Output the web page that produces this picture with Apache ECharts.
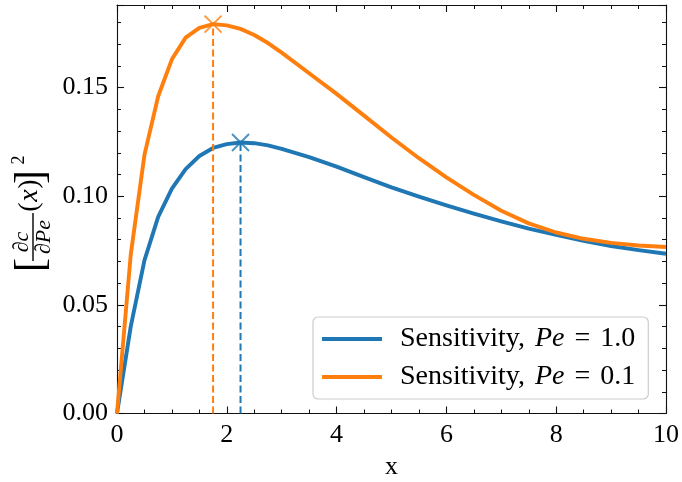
<!DOCTYPE html>
<html><head><meta charset="utf-8">
<script src="https://cdn.jsdelivr.net/npm/echarts@6/dist/echarts.min.js"></script>
<style>html,body{margin:0;padding:0;background:#fff}#c{width:682px;height:482px}</style>
</head><body><div id="c"></div>
<script>
const xs = [0,0.25,0.5,0.75,1.0,1.25,1.5,1.75,2.0,2.25,2.5,2.75,3.0,3.5,4.0,4.5,5.0,5.5,6.0,6.5,7.0,7.5,8.0,8.5,9.0,9.5,10];
const pe1 = [0,0.040,0.0705,0.0905,0.1035,0.1125,0.1185,0.1222,0.1240,0.1247,0.1244,0.1234,0.1218,0.1180,0.1136,0.1088,0.1041,0.0998,0.0958,0.0920,0.0884,0.0851,0.0822,0.0795,0.0771,0.0752,0.0735];
const pe01 = [0,0.073,0.119,0.146,0.163,0.173,0.1775,0.1792,0.1786,0.1770,0.1742,0.1705,0.1661,0.1566,0.1471,0.1371,0.1270,0.1175,0.1087,0.1006,0.0933,0.0875,0.0833,0.0804,0.0785,0.0773,0.0766];
const names = ['Sensitivity, Pe = 1.0', 'Sensitivity, Pe = 0.1'];
const colors = ['#1f77b4', '#ff7f0e'];
const xTicks = [0,2,4,6,8,10];
const yTicks = [0,0.05,0.10,0.15];

const FONT = 'Liberation Serif';
function peak(arr){ let k=0; arr.forEach((v,i)=>{ if(v>arr[k]) k=i; }); return [xs[k], arr[k]]; }
const curves = [pe1, pe01];
const series = [];
curves.forEach((arr,i)=>{
  series.push({type:'line', name:names[i], data: xs.map((x,j)=>[x,arr[j]]), showSymbol:false, symbol:'none',
    smooth:false, lineStyle:{color:colors[i], width:3.9, join:'round'}, itemStyle:{color:colors[i]}, z:2, silent:true});
});
curves.forEach((arr,i)=>{
  const p = peak(arr);
  series.push({type:'line', data:[[p[0],0],[p[0],p[1]]], showSymbol:false, symbol:'none',
    lineStyle:{color:colors[i], width:2, type:[7,3.5]}, z:3, silent:true});
});
curves.forEach((arr,i)=>{
  const p = peak(arr);
  series.push({type:'scatter', data:[p], symbol:'path://M0,0L10,10M10,0L0,10', symbolSize:17,
    itemStyle:{color:'transparent', borderColor:colors[i], borderWidth:2}, z:4, silent:true});
});

function axisCommon(split){
  return {
    axisLine:{show:true, onZero:false, lineStyle:{color:'#111', width:1.1}},
    axisTick:{show:true, inside:true, length:7, lineStyle:{color:'#111', width:1.1}},
    minorTick:{show:true, splitNumber:split, length:4, lineStyle:{color:'#111', width:1}},
    splitLine:{show:false}
  };
}
const labelStyle = {fontFamily:FONT, fontSize:26, color:'#000'};

const T = (text, x, y, size, italic, extra) => Object.assign({type:'text', style:{text:text, x:x, y:y, fontFamily:FONT, fontSize:size,
  fontStyle: italic?'italic':'normal', fill:'#000', align:'center', verticalAlign:'middle', textAlign:'center', textVerticalAlign:'middle'}}, extra||{});

const option = {
  animation:false,
  grid:{left:117, right:16, top:5, bottom:68.5, containLabel:false, outerBoundsMode:'none'},
  xAxis:[
    Object.assign({type:'value', position:'bottom', min:0, max:10, interval:2,
      axisLabel:Object.assign({margin:9, formatter:v=>xTicks.includes(v)?String(v):''}, labelStyle),
      name:'x', nameLocation:'middle', nameGap:41, nameTextStyle:{fontFamily:FONT, fontSize:26, color:'#000'}}, axisCommon(4)),
    Object.assign({type:'value', position:'top', min:0, max:10, interval:2, axisLabel:{show:false}}, axisCommon(4))
  ],
  yAxis:[
    Object.assign({type:'value', position:'left', min:0, max:0.188, interval:0.05,
      axisLabel:Object.assign({margin:9, showMaxLabel:false, formatter:v=>{ const t=yTicks.find(q=>Math.abs(q-v)<1e-9); return t===undefined?'':t.toFixed(2);} }, labelStyle)}, axisCommon(5)),
    Object.assign({type:'value', position:'right', min:0, max:0.188, interval:0.05, axisLabel:{show:false}}, axisCommon(5))
  ],
  legend:{
    data:names, orient:'vertical', left:313, top:317, padding:[8,13,8,9], itemGap:10,
    itemWidth:60, itemHeight:4, icon:'rect',
    backgroundColor:'rgba(255,255,255,0.85)', borderColor:'#cccccc', borderWidth:1.2, borderRadius:5,
    textStyle:{fontFamily:FONT, fontSize:28, color:'#000', lineHeight:28, padding:[0,0,0,13],
      rich:{r:{fontFamily:FONT, fontSize:28, color:'#000', lineHeight:28},
            i:{fontFamily:FONT, fontSize:28, fontStyle:'italic', color:'#000', lineHeight:28, padding:[0,0,0,3]},
            e:{fontFamily:FONT, fontSize:28, color:'#000', lineHeight:28, padding:[0,10,0,10]}}},
    formatter:function(n){ const m = n.match(/^(.*?)Pe = (.*)$/); return '{r|'+m[1]+'}{i|Pe}{e|=}{r|'+m[2]+'}'; }
  },
  graphic:[{
    type:'group', x:34, y:210, rotation:Math.PI/2,
    children:[
      T('[', -55, -2, 42, false),
      T('∂c', -32, -12, 22, true),
      {type:'line', shape:{x1:-51, y1:-1, x2:-3, y2:-1}, style:{stroke:'#000', lineWidth:1.4}},
      T('∂Pe', -27, 10, 22, true),
      T('(', 3, -4, 28, false),
      T('x', 14.5, -4, 28, true),
      T(')', 26, -4, 28, false),
      T(']', 33, -2, 42, false),
      T('2', 50, -15, 18, false)
    ]
  }],
  series:series
};
echarts.init(document.getElementById('c'), null, {renderer:'canvas'}).setOption(option);
</script></body></html>
